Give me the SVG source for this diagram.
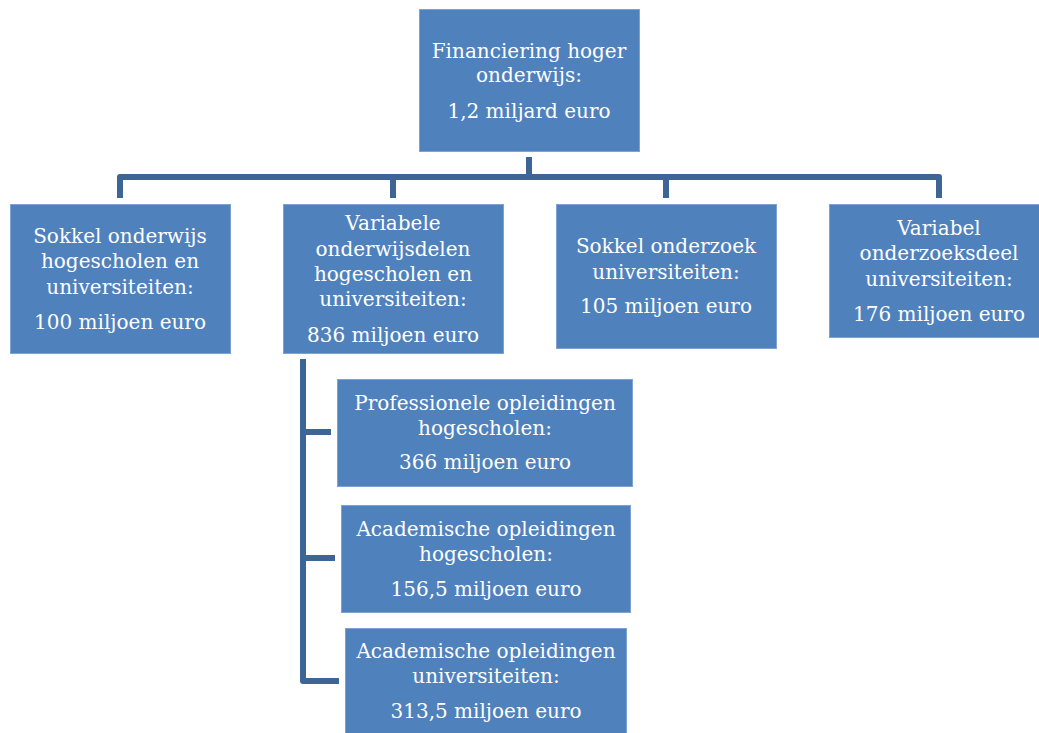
<svg xmlns="http://www.w3.org/2000/svg" width="1039" height="733" viewBox="0 0 1039 733">
<style>
.box{fill:#4F81BD;stroke:#7EA3D2;stroke-width:1}
.lbl{font-family:"DejaVu Serif","Liberation Serif",serif;font-size:20px;fill:#FFFFFF;text-anchor:middle}
.con{fill:none;stroke:#3D6696;stroke-width:6;stroke-linejoin:round}
</style>
<rect width="1039" height="733" fill="#FFFFFF"/>
<g id="connectors">
<path class="con" d="M529,157 V177"/>
<path class="con" d="M120,198 V177 H939 V198"/>
<path class="con" d="M393,177 V198"/>
<path class="con" d="M666,177 V198"/>
<path class="con" d="M303,359 V681 H339"/>
<path class="con" d="M303,432 H331"/>
<path class="con" d="M303,558 H335"/>
</g>
<g id="root">
<rect class="box" x="419.5" y="9.5" width="220" height="142"/>
<text class="lbl" x="529" y="58">Financiering hoger</text>
<text class="lbl" x="529" y="82">onderwijs:</text>
<text class="lbl" x="529" y="118">1,2 miljard euro</text>
</g>
<g id="sokkel-onderwijs">
<rect class="box" x="10.5" y="204.5" width="220" height="149"/>
<text class="lbl" x="120" y="243">Sokkel onderwijs</text>
<text class="lbl" x="120" y="268">hogescholen en</text>
<text class="lbl" x="120" y="294">universiteiten:</text>
<text class="lbl" x="120" y="329">100 miljoen euro</text>
</g>
<g id="variabele-onderwijsdelen">
<rect class="box" x="283.5" y="204.5" width="220" height="149"/>
<text class="lbl" x="393" y="230">Variabele</text>
<text class="lbl" x="393" y="256">onderwijsdelen</text>
<text class="lbl" x="393" y="281">hogescholen en</text>
<text class="lbl" x="393" y="306">universiteiten:</text>
<text class="lbl" x="393" y="342">836 miljoen euro</text>
</g>
<g id="sokkel-onderzoek">
<rect class="box" x="556.5" y="204.5" width="220" height="144"/>
<text class="lbl" x="666" y="253">Sokkel onderzoek</text>
<text class="lbl" x="666" y="279">universiteiten:</text>
<text class="lbl" x="666" y="313">105 miljoen euro</text>
</g>
<g id="variabel-onderzoeksdeel">
<rect class="box" x="829.5" y="204.5" width="220" height="133"/>
<text class="lbl" x="939" y="235">Variabel</text>
<text class="lbl" x="939" y="260">onderzoeksdeel</text>
<text class="lbl" x="939" y="286">universiteiten:</text>
<text class="lbl" x="939" y="321">176 miljoen euro</text>
</g>
<g id="professionele-hogescholen">
<rect class="box" x="337.5" y="379.5" width="295" height="107"/>
<text class="lbl" x="485" y="410">Professionele opleidingen</text>
<text class="lbl" x="485" y="435">hogescholen:</text>
<text class="lbl" x="485" y="469">366 miljoen euro</text>
</g>
<g id="academische-hogescholen">
<rect class="box" x="341.5" y="505.5" width="289" height="107"/>
<text class="lbl" x="486" y="536">Academische opleidingen</text>
<text class="lbl" x="486" y="561">hogescholen:</text>
<text class="lbl" x="486" y="596">156,5 miljoen euro</text>
</g>
<g id="academische-universiteiten">
<rect class="box" x="345.5" y="628.5" width="281" height="108"/>
<text class="lbl" x="486" y="658">Academische opleidingen</text>
<text class="lbl" x="486" y="683">universiteiten:</text>
<text class="lbl" x="486" y="718">313,5 miljoen euro</text>
</g>
</svg>
